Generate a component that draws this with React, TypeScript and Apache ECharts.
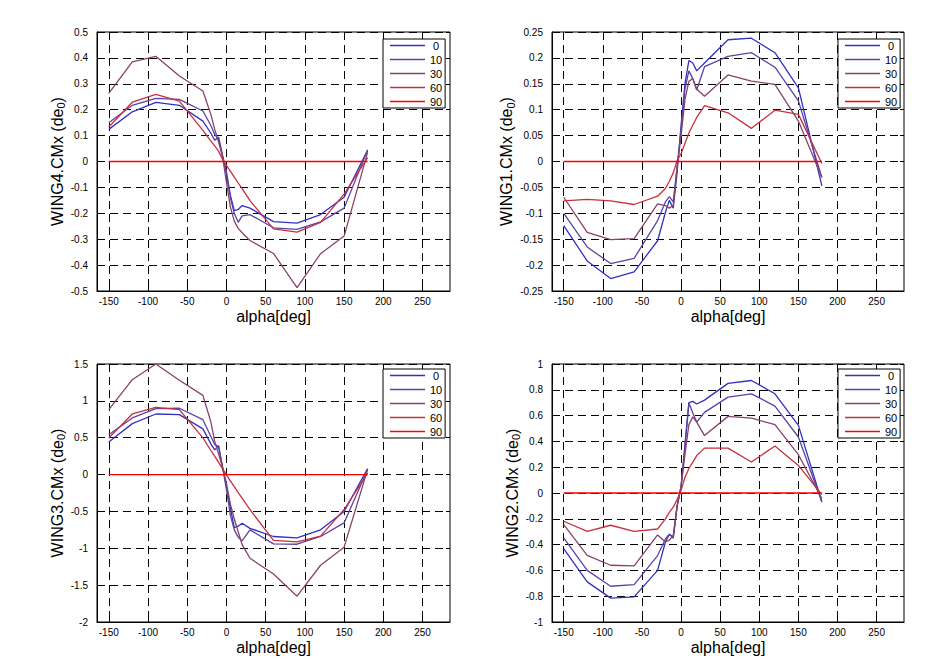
import React, { useEffect, useRef } from "react";
import * as echarts from "echarts";

const alpha = [-150, -120, -90, -60, -30, -20, -15, -10, -5, 0, 5, 10, 15, 20, 30, 60, 90, 120, 150, 180];
const seriesNames = ["0", "10", "30", "60", "90"];
const xTicks = [-150, -100, -50, 0, 50, 100, 150, 200, 250];

// WING4.CMx
const wing4_0 = [0.124, 0.192, 0.228, 0.217, 0.156, 0.11, 0.082, 0.094, 0.025, -0.04, -0.13, -0.19, -0.185, -0.17, -0.18, -0.232, -0.238, -0.205, -0.138, 0.044];
const wing4_10 = [0.15, 0.217, 0.244, 0.24, 0.195, 0.14, 0.105, 0.085, 0.02, -0.05, -0.14, -0.2, -0.235, -0.21, -0.205, -0.256, -0.262, -0.233, -0.18, 0.045];
const wing4_30 = [0.263, 0.385, 0.406, 0.33, 0.272, 0.183, 0.125, 0.075, 0.02, -0.08, -0.175, -0.23, -0.258, -0.275, -0.305, -0.355, -0.487, -0.356, -0.288, 0.035];
const wing4_60 = [0.133, 0.229, 0.259, 0.233, 0.12, 0.08, 0.06, 0.04, 0.008, -0.015, -0.037, -0.06, -0.083, -0.105, -0.151, -0.26, -0.273, -0.235, -0.126, 0.015];
const wing4_90 = [0, 0, 0, 0, 0, 0, 0, 0, 0, 0, 0, 0, 0, 0, 0, 0, 0, 0, 0, 0];

// WING1.CMx
const wing1_0 = [-0.124, -0.192, -0.226, -0.213, -0.153, -0.098, -0.075, -0.09, -0.02, 0.07, 0.15, 0.195, 0.19, 0.175, 0.19, 0.235, 0.238, 0.21, 0.142, -0.047];
const wing1_10 = [-0.1, -0.165, -0.197, -0.187, -0.114, -0.078, -0.068, -0.078, -0.01, 0.06, 0.14, 0.175, 0.16, 0.138, 0.183, 0.203, 0.21, 0.182, 0.117, -0.031];
const wing1_30 = [-0.069, -0.137, -0.151, -0.149, -0.082, -0.085, -0.09, -0.085, -0.01, 0.05, 0.12, 0.155, 0.16, 0.14, 0.126, 0.167, 0.155, 0.149, 0.078, -0.031];
const wing1_60 = [-0.076, -0.073, -0.076, -0.083, -0.067, -0.052, -0.038, -0.022, 0.002, 0.015, 0.035, 0.055, 0.07, 0.085, 0.108, 0.094, 0.064, 0.099, 0.091, -0.004];
const wing1_90 = [0, 0, 0, 0, 0, 0, 0, 0, 0, 0, 0, 0, 0, 0, 0, 0, 0, 0, 0, 0];

// WING3.CMx
const wing3_0 = [0.443, 0.691, 0.822, 0.813, 0.62, 0.42, 0.335, 0.39, 0.1, -0.15, -0.45, -0.72, -0.7, -0.66, -0.73, -0.84, -0.858, -0.75, -0.5, 0.08];
const wing3_10 = [0.54, 0.768, 0.894, 0.9, 0.745, 0.52, 0.41, 0.38, 0.1, -0.2, -0.55, -0.75, -0.85, -0.9, -0.75, -0.94, -0.945, -0.84, -0.655, 0.07];
const wing3_30 = [0.88, 1.287, 1.5, 1.28, 1.075, 0.72, 0.45, 0.28, 0.1, -0.12, -0.4, -0.6, -0.78, -0.95, -1.135, -1.35, -1.65, -1.23, -0.985, 0.07];
const wing3_60 = [0.497, 0.822, 0.912, 0.88, 0.497, 0.33, 0.25, 0.165, 0.08, -0.005, -0.085, -0.165, -0.245, -0.32, -0.474, -0.894, -0.912, -0.835, -0.474, 0.02];
const wing3_90 = [0, 0, 0, 0, 0, 0, 0, 0, 0, 0, 0, 0, 0, 0, 0, 0, 0, 0, 0, 0];

// WING2.CMx
const wing2_0 = [-0.431, -0.689, -0.815, -0.805, -0.6, -0.38, -0.32, -0.35, -0.1, 0.05, 0.38, 0.7, 0.71, 0.69, 0.72, 0.85, 0.872, 0.769, 0.524, -0.07];
const wing2_10 = [-0.348, -0.6, -0.723, -0.71, -0.485, -0.356, -0.32, -0.34, -0.1, 0.05, 0.35, 0.7, 0.62, 0.55, 0.625, 0.743, 0.769, 0.674, 0.434, -0.07];
const wing2_30 = [-0.245, -0.483, -0.56, -0.565, -0.325, -0.38, -0.365, -0.33, -0.1, 0.05, 0.3, 0.53, 0.59, 0.55, 0.445, 0.594, 0.58, 0.53, 0.297, -0.044];
const wing2_60 = [-0.219, -0.297, -0.25, -0.297, -0.279, -0.2, -0.15, -0.11, -0.05, 0.02, 0.12, 0.19, 0.24, 0.29, 0.348, 0.348, 0.24, 0.364, 0.214, -0.013];
const wing2_90 = [0, 0, 0, 0, 0, 0, 0, 0, 0, 0, 0, 0, 0, 0, 0, 0, 0, 0, 0, 0];

const COLORS = ["#3131c4", "#5b43a6", "#86436a", "#c8303c", "#ff0000"];
const FONT = "'Liberation Sans', Arial, Helvetica, sans-serif";

const plots = [
  { label: "WING4.CMx", values: [wing4_0, wing4_10, wing4_30, wing4_60, wing4_90], yMin: -0.5, yMax: 0.5, yStep: 0.1,
    box: { left: 97, top: 32, width: 353, height: 259 }, legend: { left: 383, top: 39 }, nameGap: 28 },
  { label: "WING1.CMx", values: [wing1_0, wing1_10, wing1_30, wing1_60, wing1_90], yMin: -0.25, yMax: 0.25, yStep: 0.05,
    box: { left: 552, top: 32, width: 352, height: 259 }, legend: { left: 838, top: 39 }, nameGap: 31 },
  { label: "WING3.CMx", values: [wing3_0, wing3_10, wing3_30, wing3_60, wing3_90], yMin: -2, yMax: 1.5, yStep: 0.5,
    box: { left: 97, top: 364, width: 353, height: 258 }, legend: { left: 383, top: 369 }, nameGap: 30 },
  { label: "WING2.CMx", values: [wing2_0, wing2_10, wing2_30, wing2_60, wing2_90], yMin: -1, yMax: 1, yStep: 0.2,
    box: { left: 552, top: 364, width: 352, height: 258 }, legend: { left: 838, top: 369 }, nameGap: 30 },
];

function buildOption() {
  const grid: any[] = [];
  const xAxis: any[] = [];
  const yAxis: any[] = [];
  const series: any[] = [];
  const legend: any[] = [];
  const dash = { color: "#000", width: 1, type: [8, 5] };

  plots.forEach((p, i) => {
    grid.push({ ...p.box, show: true, borderColor: "#000", borderWidth: 1, backgroundColor: "#fff" });
    xAxis.push({
      type: "value", gridIndex: i, min: -165, max: 285, position: "bottom",
      axisLine: { show: true, onZero: false, lineStyle: { color: "#000", width: 1 } },
      axisTick: { show: true, inside: true, length: 4, customValues: xTicks, lineStyle: { color: "#000" } },
      axisLabel: { customValues: xTicks, color: "#000", fontSize: 10, margin: 5, fontFamily: FONT },
      splitLine: { show: true, lineStyle: dash },
      name: "alpha[deg]", nameLocation: "middle", nameGap: 17,
      nameTextStyle: { fontSize: 16, color: "#000", fontFamily: FONT },
    });
    xAxis.push({
      type: "value", gridIndex: i, min: -165, max: 285, position: "top",
      axisLine: { show: false, onZero: false },
      axisTick: { show: true, inside: true, length: 4, customValues: xTicks, lineStyle: { color: "#000" } },
      axisLabel: { show: false }, splitLine: { show: false },
    });
    yAxis.push({
      type: "value", gridIndex: i, min: p.yMin, max: p.yMax, interval: p.yStep, position: "left",
      axisLine: { show: true, onZero: false, lineStyle: { color: "#000", width: 1 } },
      axisTick: { show: true, inside: true, length: 4, lineStyle: { color: "#000" } },
      axisLabel: { color: "#000", fontSize: 10, margin: 9, fontFamily: FONT },
      splitLine: { show: true, lineStyle: dash },
      name: `{a|${p.label} (de}{s|0}{a|)}`, nameLocation: "middle", nameRotate: 90, nameGap: p.nameGap,
      nameTextStyle: {
        color: "#000", fontFamily: FONT,
        rich: {
          a: { fontSize: 16, color: "#000", fontFamily: FONT },
          s: { fontSize: 11, color: "#000", fontFamily: FONT, padding: [8, 0, 0, 0] },
        },
      },
    });
    yAxis.push({
      type: "value", gridIndex: i, min: p.yMin, max: p.yMax, interval: p.yStep, position: "right",
      axisLine: { show: false, onZero: false },
      axisTick: { show: true, inside: true, length: 4, lineStyle: { color: "#000" } },
      axisLabel: { show: false }, splitLine: { show: false },
    });
    p.values.forEach((vals, k) => {
      series.push({
        type: "line", name: seriesNames[k], xAxisIndex: 2 * i, yAxisIndex: 2 * i,
        data: alpha.map((a, j) => [a, vals[j]]),
        symbol: "none", showSymbol: false,
        lineStyle: { width: 1.3, color: COLORS[k] }, itemStyle: { color: COLORS[k] },
        emphasis: { disabled: true },
      });
    });
    legend.push({
      show: true, orient: "vertical", left: p.legend.left, top: p.legend.top,
      data: seriesNames, icon: "rect", itemWidth: 35, itemHeight: 1.5, itemGap: 3,
      padding: [1, 3, 1, 7], borderColor: "#000", borderWidth: 1, backgroundColor: "#fff",
      selectedMode: false,
      formatter: "{t|{name}}",
      textStyle: { color: "#000", fontSize: 11, fontFamily: FONT,
        rich: { t: { width: 12, align: "center", fontSize: 11, color: "#000", fontFamily: FONT } } },
    });
  });

  return { animation: false, backgroundColor: "#fff", grid, xAxis, yAxis, series, legend };
}

export default function App() {
  const ref = useRef<HTMLDivElement>(null);
  useEffect(() => {
    const chart = echarts.init(ref.current!, null, { renderer: "svg" });
    chart.setOption(buildOption());
    return () => chart.dispose();
  }, []);
  return (
    <div
      ref={ref}
      style={{ position: "fixed", left: 0, top: 0, width: 952, height: 665, background: "#fff" }}
    />
  );
}
